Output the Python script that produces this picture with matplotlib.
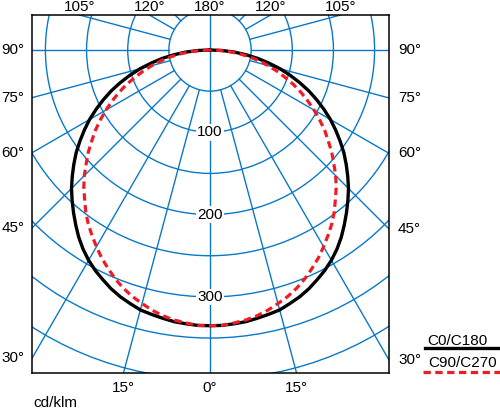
import numpy as np
import matplotlib.pyplot as plt
from matplotlib.patches import Circle
from matplotlib.lines import Line2D

plt.rcParams['font.family'] = ['Liberation Sans', 'DejaVu Sans']

# gamma angle (deg from nadir) and intensity [cd/klm]
gamma = [0, 2.5, 5, 7.5, 10, 12.5, 15, 17.5, 20, 22.5, 25, 27.5, 30, 32.5, 35, 37.5,
         40, 42.5, 45, 47.5, 50, 52.5, 55, 57.5, 60, 62.5, 65, 67.5, 70, 72.5, 75,
         77.5, 80, 82.5, 85, 87.5, 90]
c0_c180 = [335, 335, 334, 333, 331, 329, 327, 323, 319, 314, 308, 302, 295, 287, 278, 268,
           258, 248, 238, 227, 216, 205, 193, 181, 169, 156, 143, 130, 116, 102, 88,
           73, 59, 44, 30, 15, 0]
c90_c270 = [335, 335, 333, 331, 328, 324, 319, 314, 308, 301, 293, 285, 276, 267, 258, 248,
            237, 227, 216, 204, 193, 181, 170, 158, 146, 134, 122, 110, 97, 85, 73,
            61, 49, 37, 24, 12, 0]

ring_values = [50, 100, 150, 200, 250, 300, 350, 400, 450, 500]
ring_labels = [100, 200, 300]
side_angles = [90, 75, 60, 45, 30]
top_angles = [105, 120]
bottom_angles = [15]

blue = "#0a78c8"
red = "#ee1c25"

fig = plt.figure(figsize=(5, 4.09), dpi=100)
ax = fig.add_axes([0.064, 0.088, 0.714, 0.8753])
ax.set_xlim(-216.3, 217.5)
ax.set_ylim(-392.5, 42.5)
ax.set_xticks([])
ax.set_yticks([])
for sp in ax.spines.values():
    sp.set_linewidth(1.1)

# polar grid: rings every 50, spokes every 15 deg outside the inner circle
for r in ring_values:
    ax.add_patch(Circle((0, 0), r, fill=False, ec=blue, lw=1.0, zorder=1))
for a in range(15, 180, 15):
    t = np.radians(a)
    for s in (-1, 1):
        ax.plot([s * 50 * np.sin(t), s * 700 * np.sin(t)],
                [-50 * np.cos(t), -700 * np.cos(t)], color=blue, lw=1.0, zorder=1)
ax.plot([0, 0], [-700, 700], color=blue, lw=1.0, zorder=1)

for v in ring_labels:
    ax.text(0, -v, str(v), ha="center", va="center", fontsize=11, zorder=3,
            bbox=dict(fc="white", ec="none", pad=1.0))

# curves, mirrored for both halves
g = np.radians(gamma)
for vals, style in [(c0_c180, dict(color="black", lw=2.4, ls="-")),
                    (c90_c270, dict(color=red, lw=2.3, ls=(0, (2.3, 1.4))))]:
    vals = np.array(vals, dtype=float)
    x = np.concatenate([-vals[::-1] * np.sin(g[::-1]), vals[1:] * np.sin(g[1:])])
    y = np.concatenate([-vals[::-1] * np.cos(g[::-1]), -vals[1:] * np.cos(g[1:])])
    ax.plot(x, y, zorder=4, **style)

# angle labels
xl, xr = ax.get_xlim()
yb, yt = ax.get_ylim()
for a in side_angles:
    t = np.radians(a)
    yy = -abs(xl) * np.cos(t) / np.sin(t)
    ax.annotate(f"{a}°", (xl, yy), xytext=(-5.5, 0), textcoords="offset points",
                ha="right", va="center", fontsize=11, annotation_clip=False)
    yy = -abs(xr) * np.cos(t) / np.sin(t)
    ax.annotate(f"{a}°", (xr, yy), xytext=(6.5, 0), textcoords="offset points",
                ha="left", va="center", fontsize=11, annotation_clip=False)
for a in top_angles:
    t = np.radians(180 - a)
    xx = yt * np.sin(t) / np.cos(t)
    for s in (-1, 1):
        ax.annotate(f"{a}°", (s * xx, yt), xytext=(0, 3), textcoords="offset points",
                    ha="center", va="baseline", fontsize=11, annotation_clip=False)
ax.annotate("180°", (0, yt), xytext=(0, 3), textcoords="offset points",
            ha="center", va="baseline", fontsize=11, annotation_clip=False)
for a in bottom_angles:
    t = np.radians(a)
    xx = abs(yb) * np.sin(t) / np.cos(t)
    for s in (-1, 1):
        ax.annotate(f"{a}°", (s * xx, yb), xytext=(0, -6), textcoords="offset points",
                    ha="center", va="top", fontsize=11, annotation_clip=False)
ax.annotate("0°", (0, yb), xytext=(0, -6), textcoords="offset points",
            ha="center", va="top", fontsize=11, annotation_clip=False)

fig.text(33 / 500, 1 - 407 / 409, "cd/klm", ha="left", va="baseline", fontsize=11)

# legend
fig.text(427 / 500, 1 - 345 / 409, "C0/C180", ha="left", va="baseline", fontsize=11)
fig.text(428 / 500, 1 - 367 / 409, "C90/C270", ha="left", va="baseline", fontsize=11)
fig.add_artist(Line2D([425 / 500, 1.0], [1 - 348 / 409] * 2, color="black", lw=2.4))
fig.add_artist(Line2D([423 / 500, 1.0], [1 - 372 / 409] * 2, color=red, lw=2.3,
                      ls=(0, (2.3, 1.4))))

fig.savefig("out.png", dpi=100)
